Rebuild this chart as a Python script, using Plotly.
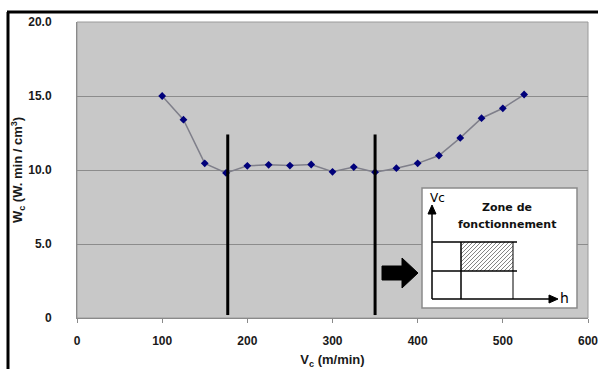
import plotly.graph_objects as go

vc = [100, 125, 150, 175, 200, 225, 250, 275, 300, 325, 350, 375, 400, 425, 450, 475, 500, 525]
wc = [15.0, 13.4, 10.45, 9.8, 10.28, 10.35, 10.3, 10.37, 9.88, 10.2, 9.85, 10.12, 10.45, 10.98, 12.17, 13.5, 14.17, 15.1]
zone_limits = [177, 350]
zone_line_top = 12.4
zone_line_bottom = 0.2
y_ticks = [0, 5, 10, 15, 20]
y_ticktext = ["0", "5.0", "10.0", "15.0", "20.0"]
x_ticks = [0, 100, 200, 300, 400, 500, 600]

W, H = 598, 369
L, R, T, B = 77, 588, 22, 318


def px(x):
    return (x - L) / (R - L)


def py(y):
    return (B - y) / (B - T)


fig = go.Figure()
fig.add_trace(go.Scatter(
    x=vc, y=wc, mode="lines+markers",
    line=dict(color="#7f7f8a", width=1.5),
    marker=dict(symbol="diamond", size=6, color="#00007a"),
    showlegend=False, hoverinfo="skip"))

shapes = []
for xv in zone_limits:
    shapes.append(dict(type="line", xref="x", yref="y", x0=xv, x1=xv,
                       y0=zone_line_bottom, y1=zone_line_top,
                       line=dict(color="black", width=3)))

# outer frame (left + top)
shapes.append(dict(type="line", xref="paper", yref="paper", x0=px(8), x1=px(8),
                   y0=py(12), y1=py(369), line=dict(color="black", width=3)))
shapes.append(dict(type="line", xref="paper", yref="paper", x0=px(7), x1=px(598),
                   y0=py(12), y1=py(12), line=dict(color="black", width=3)))
# plot area border
shapes.append(dict(type="rect", xref="paper", yref="paper", x0=0, x1=1, y0=0, y1=1,
                   line=dict(color="#9a9a9a", width=1), layer="below"))

# big arrow
arrow_pts = [(382, 266), (402, 266), (402, 258), (418, 273), (402, 288), (402, 280), (382, 280)]
path = "M " + " L ".join(f"{px(a)},{py(b)}" for a, b in arrow_pts) + " Z"
shapes.append(dict(type="path", xref="paper", yref="paper", path=path,
                   fillcolor="black", line=dict(color="black", width=1)))

# inset box
shapes.append(dict(type="rect", xref="paper", yref="paper", x0=px(422), x1=px(577),
                   y0=py(308), y1=py(188), fillcolor="white",
                   line=dict(color="#8a8a8a", width=1.5)))
# hatching
hx0, hx1, hy0, hy1 = 461, 513, 242, 271
step = 4
for k in range(-(hy1 - hy0), hx1 - hx0, step):
    t0 = max(0, -k)
    t1 = min(hy1 - hy0, hx1 - hx0 - k)
    if t1 <= t0:
        continue
    shapes.append(dict(type="line", xref="paper", yref="paper",
                       x0=px(hx0 + k + t0), y0=py(hy1 - t0),
                       x1=px(hx0 + k + t1), y1=py(hy1 - t1),
                       line=dict(color="#666666", width=0.8)))
# inset grid
ln = dict(color="black", width=1.5)
shapes += [
    dict(type="line", xref="paper", yref="paper", x0=px(432), x1=px(432), y0=py(299), y1=py(212), line=ln),
    dict(type="line", xref="paper", yref="paper", x0=px(432), x1=px(552), y0=py(299), y1=py(299), line=ln),
    dict(type="line", xref="paper", yref="paper", x0=px(461), x1=px(461), y0=py(299), y1=py(242), line=ln),
    dict(type="line", xref="paper", yref="paper", x0=px(513), x1=px(513), y0=py(299), y1=py(242), line=dict(color="black", width=1)),
    dict(type="line", xref="paper", yref="paper", x0=px(432), x1=px(517), y0=py(242), y1=py(242), line=ln),
    dict(type="line", xref="paper", yref="paper", x0=px(432), x1=px(517), y0=py(271), y1=py(271), line=ln),
]
tri_up = [(428, 214), (436, 214), (432, 205)]
tri_right = [(549, 295), (549, 303), (558, 299)]
for tri in (tri_up, tri_right):
    p = "M " + " L ".join(f"{px(a)},{py(b)}" for a, b in tri) + " Z"
    shapes.append(dict(type="path", xref="paper", yref="paper", path=p,
                       fillcolor="black", line=dict(color="black", width=1)))

annotations = [
    dict(text="Vc", xref="paper", yref="paper", x=px(437), y=py(198), showarrow=False,
         font=dict(family="DejaVu Sans", size=12, color="black"), xanchor="center", yanchor="middle"),
    dict(text="h", xref="paper", yref="paper", x=px(564), y=py(298), showarrow=False,
         font=dict(family="DejaVu Sans", size=14, color="black"), xanchor="center", yanchor="middle"),
    dict(text="<b>Zone de</b>", xref="paper", yref="paper", x=px(507), y=py(207), showarrow=False,
         font=dict(family="DejaVu Sans", size=11, color="#111"), xanchor="center", yanchor="middle"),
    dict(text="<b>fonctionnement</b>", xref="paper", yref="paper", x=px(507), y=py(224), showarrow=False,
         font=dict(family="DejaVu Sans", size=11, color="#111"), xanchor="center", yanchor="middle"),
]

fig.update_layout(
    width=W, height=H,
    margin=dict(l=L, r=W - R, t=T, b=H - B, autoexpand=False),
    paper_bgcolor="white", plot_bgcolor="#c8c8c8",
    shapes=shapes, annotations=annotations,
    font=dict(family="Liberation Sans", size=12, color="#1a1a1a"),
    xaxis=dict(range=[0, 600], tickvals=x_ticks, showgrid=False, zeroline=False,
               automargin=False, ticklabeloverflow="allow",
               showline=True, linecolor="#8a8a8a", linewidth=1,
               ticks="outside", ticklen=4, tickcolor="#8a8a8a",
               tickfont=dict(family="Liberation Sans", size=12, color="#1a1a1a", weight="bold"),
               ticklabelstandoff=8,
               title=dict(text="<b>V<sub>c</sub> (m/min)</b>", standoff=10,
                          font=dict(family="Liberation Sans", size=13, color="#1a1a1a"))),
    yaxis=dict(range=[0, 20], tickvals=y_ticks, ticktext=y_ticktext, showgrid=True,
               automargin=False, ticklabeloverflow="allow",
               gridcolor="#8c8c8c", gridwidth=1, zeroline=False,
               showline=True, linecolor="#8a8a8a", ticks="",
               tickfont=dict(family="Liberation Sans", size=12, color="#1a1a1a", weight="bold"),
               ticklabelstandoff=22,
               title=dict(text="<b>W<sub>c</sub> (W. min / cm<sup>3</sup>)</b>", standoff=2,
                          font=dict(family="Liberation Sans", size=13, color="#1a1a1a"))),
)

fig.write_html("out.html", config={"displayModeBar": False},
               post_script="document.body.style.margin='0';document.body.style.padding='0';")
